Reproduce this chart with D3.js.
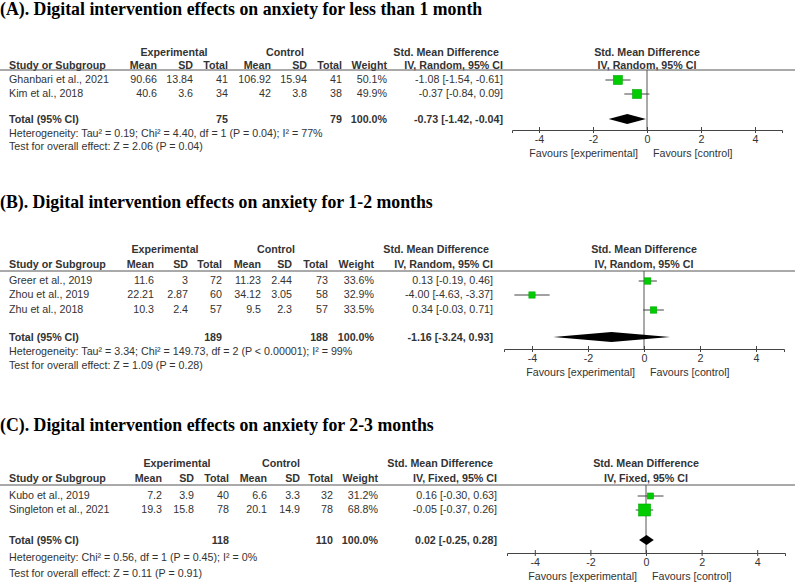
<!DOCTYPE html>
<html>
<head>
<meta charset="utf-8">
<script src="https://cdn.jsdelivr.net/npm/d3@7/dist/d3.min.js"></script>
<style>
  html, body { margin: 0; padding: 0; background: #fff; }
  svg { display: block; }
  .tbl { font-family: "Liberation Sans", Arial, sans-serif; font-size: 10.7px; fill: #333; }
  .b { font-weight: bold; }
  .title { font-family: "Liberation Serif", "Times New Roman", serif; font-weight: bold; font-size: 17.8px; fill: #000; }
</style>
</head>
<body>
<svg id="chart" width="795" height="586"></svg>
<script>
// ---------------- DATA ----------------
const titles = [
  "(A). Digital intervention effects on anxiety for less than 1 month",
  "(B). Digital intervention effects on anxiety for 1-2 months",
  "(C). Digital intervention effects on anxiety for 2-3 months"
];
const methods = ["IV, Random, 95% CI", "IV, Random, 95% CI", "IV, Fixed, 95% CI"];

// Panel A
const studiesA  = ["Ghanbari et al., 2021", "Kim et al., 2018"];
const expMeanA  = ["90.66", "40.6"];
const expSDA    = ["13.84", "3.6"];
const expNA     = ["41", "34"];
const ctlMeanA  = ["106.92", "42"];
const ctlSDA    = ["15.94", "3.8"];
const ctlNA     = ["41", "38"];
const weightA   = [50.1, 49.9];
const smdA      = [-1.08, -0.37];
const lowA      = [-1.54, -0.84];
const highA     = [-0.61, 0.09];
const totalA    = { expN: "75", ctlN: "79", smd: -0.73, low: -1.42, high: -0.04 };
const hetA      = "Heterogeneity: Tau\u00B2 = 0.19; Chi\u00B2 = 4.40, df = 1 (P = 0.04); I\u00B2 = 77%";
const testA     = "Test for overall effect: Z = 2.06 (P = 0.04)";

// Panel B
const studiesB  = ["Greer et al., 2019", "Zhou et al., 2019", "Zhu et al., 2018"];
const expMeanB  = ["11.6", "22.21", "10.3"];
const expSDB    = ["3", "2.87", "2.4"];
const expNB     = ["72", "60", "57"];
const ctlMeanB  = ["11.23", "34.12", "9.5"];
const ctlSDB    = ["2.44", "3.05", "2.3"];
const ctlNB     = ["73", "58", "57"];
const weightB   = [33.6, 32.9, 33.5];
const smdB      = [0.13, -4.00, 0.34];
const lowB      = [-0.19, -4.63, -0.03];
const highB     = [0.46, -3.37, 0.71];
const totalB    = { expN: "189", ctlN: "188", smd: -1.16, low: -3.24, high: 0.93 };
const hetB      = "Heterogeneity: Tau\u00B2 = 3.34; Chi\u00B2 = 149.73, df = 2 (P < 0.00001); I\u00B2 = 99%";
const testB     = "Test for overall effect: Z = 1.09 (P = 0.28)";

// Panel C
const studiesC  = ["Kubo et al., 2019", "Singleton et al., 2021"];
const expMeanC  = ["7.2", "19.3"];
const expSDC    = ["3.9", "15.8"];
const expNC     = ["40", "78"];
const ctlMeanC  = ["6.6", "20.1"];
const ctlSDC    = ["3.3", "14.9"];
const ctlNC     = ["32", "78"];
const weightC   = [31.2, 68.8];
const smdC      = [0.16, -0.05];
const lowC      = [-0.30, -0.37];
const highC     = [0.63, 0.26];
const totalC    = { expN: "118", ctlN: "110", smd: 0.02, low: -0.25, high: 0.28 };
const hetC      = "Heterogeneity: Chi\u00B2 = 0.56, df = 1 (P = 0.45); I\u00B2 = 0%";
const testC     = "Test for overall effect: Z = 0.11 (P = 0.91)";

const axisTicks = [-4, -2, 0, 2, 4];
const axisDomain = [-5, 5];
const favLeft = "Favours [experimental]";
const favRight = "Favours [control]";

// ---------------- LAYOUT ----------------
const layouts = [
  { titleY: 15, h1: 52, h2: 65, lineY: 70, rows: [79, 93], totY: 119, hetY: 133, testY: 146, axisY: 130,
    xr: [512, 782], expC: 174, ctlC: 285,
    col: { study: 9, em: 157, es: 193, en: 228, cm: 271, cs: 307, cn: 342, w: 387, ci: 503 } },
  { titleY: 208, h1: 249, h2: 264, lineY: 271, rows: [280, 294, 309], totY: 337, hetY: 351, testY: 365, axisY: 349,
    xr: [504, 784], expC: 165, ctlC: 276,
    col: { study: 9, em: 154, es: 188, en: 222, cm: 261, cs: 292, cn: 328, w: 374, ci: 493 } },
  { titleY: 431, h1: 463, h2: 478, lineY: 485, rows: [495, 509], totY: 540, hetY: 557, testY: 573, axisY: 553,
    xr: [507, 785], expC: 177, ctlC: 281,
    col: { study: 9, em: 162, es: 194, en: 229, cm: 267, cs: 300, cn: 333, w: 378, ci: 497 } }
];

const panels = [
  { studies: studiesA, em: expMeanA, es: expSDA, en: expNA, cm: ctlMeanA, cs: ctlSDA, cn: ctlNA,
    w: weightA, smd: smdA, lo: lowA, hi: highA, tot: totalA, het: hetA, test: testA },
  { studies: studiesB, em: expMeanB, es: expSDB, en: expNB, cm: ctlMeanB, cs: ctlSDB, cn: ctlNB,
    w: weightB, smd: smdB, lo: lowB, hi: highB, tot: totalB, het: hetB, test: testB },
  { studies: studiesC, em: expMeanC, es: expSDC, en: expNC, cm: ctlMeanC, cs: ctlSDC, cn: ctlNC,
    w: weightC, smd: smdC, lo: lowC, hi: highC, tot: totalC, het: hetC, test: testC }
];

const svg = d3.select("#chart");
const fmt2 = d3.format(".2f");
const fmtW = d3.format(".1f");
const boxSize = d3.scaleLinear().domain([0, 100]).range([1, 17]);

function txt(g, x, y, s, anchor, bold) {
  return g.append("text").attr("class", "tbl" + (bold ? " b" : ""))
    .attr("x", x).attr("y", y).attr("dy", "0.35em")
    .attr("text-anchor", anchor || "start").text(s);
}
function num(v) { return fmt2(v).replace("\u2212", "-"); }
function ciText(e, l, h) { return num(e) + " [" + num(l) + ", " + num(h) + "]"; }

panels.forEach((p, i) => {
  const L = layouts[i], c = L.col;
  const g = svg.append("g");
  g.append("text").attr("class", "title").attr("x", 0).attr("y", L.titleY).text(titles[i]);

  // header row 1
  txt(g, L.expC, L.h1, "Experimental", "middle", true);
  txt(g, L.ctlC, L.h1, "Control", "middle", true);
  txt(g, c.ci - 4, L.h1, "Std. Mean Difference", "end", true);
  // header row 2
  txt(g, c.study, L.h2, "Study or Subgroup", "start", true);
  txt(g, c.em, L.h2, "Mean", "end", true);
  txt(g, c.es, L.h2, "SD", "end", true);
  txt(g, c.en, L.h2, "Total", "end", true);
  txt(g, c.cm, L.h2, "Mean", "end", true);
  txt(g, c.cs, L.h2, "SD", "end", true);
  txt(g, c.cn, L.h2, "Total", "end", true);
  txt(g, c.w, L.h2, "Weight", "end", true);
  txt(g, c.ci, L.h2, methods[i], "end", true);

  const x = d3.scaleLinear().domain(axisDomain).range(L.xr);
  const x0 = x(0);
  txt(g, x0, L.h1, "Std. Mean Difference", "middle", true);
  txt(g, x0, L.h2, methods[i], "middle", true);

  g.append("line").attr("x1", 0).attr("x2", 795).attr("y1", L.lineY).attr("y2", L.lineY)
    .attr("stroke", "#555").attr("stroke-width", 1);

  // study rows
  p.studies.forEach((s, j) => {
    const y = L.rows[j];
    txt(g, c.study, y, s);
    txt(g, c.em, y, p.em[j], "end");
    txt(g, c.es, y, p.es[j], "end");
    txt(g, c.en, y, p.en[j], "end");
    txt(g, c.cm, y, p.cm[j], "end");
    txt(g, c.cs, y, p.cs[j], "end");
    txt(g, c.cn, y, p.cn[j], "end");
    txt(g, c.w, y, fmtW(p.w[j]) + "%", "end");
    txt(g, c.ci, y, ciText(p.smd[j], p.lo[j], p.hi[j]), "end");
  });

  // totals
  txt(g, c.study, L.totY, "Total (95% CI)", "start", true);
  txt(g, c.en, L.totY, p.tot.expN, "end", true);
  txt(g, c.cn, L.totY, p.tot.ctlN, "end", true);
  txt(g, c.w, L.totY, "100.0%", "end", true);
  txt(g, c.ci, L.totY, ciText(p.tot.smd, p.tot.low, p.tot.high), "end", true);
  txt(g, c.study, L.hetY, p.het);
  txt(g, c.study, L.testY, p.test);

  // zero line
  g.append("line").attr("x1", x0).attr("x2", x0).attr("y1", L.lineY).attr("y2", L.axisY)
    .attr("stroke", "#555").attr("stroke-width", 1);

  // CI whiskers and boxes
  p.studies.forEach((s, j) => {
    const y = L.rows[j] + 1;
    g.append("line").attr("x1", x(p.lo[j])).attr("x2", x(p.hi[j])).attr("y1", y).attr("y2", y)
      .attr("stroke", "#444").attr("stroke-width", 1);
    const b = boxSize(p.w[j]);
    g.append("rect").attr("x", x(p.smd[j]) - b / 2).attr("y", y - b / 2)
      .attr("width", b).attr("height", b)
      .attr("fill", "#00cc00").attr("stroke", "#00a800").attr("stroke-width", 0.6);
  });

  // diamond
  const yd = L.totY;
  const pts = [[x(p.tot.low), yd], [x(p.tot.smd), yd - 5], [x(p.tot.high), yd], [x(p.tot.smd), yd + 5]];
  g.append("polygon").attr("points", pts.map(d => d.join(",")).join(" ")).attr("fill", "#000");

  // axis
  const ax = g.append("g").attr("transform", "translate(0," + L.axisY + ")")
    .call(d3.axisBottom(x).tickValues(axisTicks).tickSizeOuter(0).tickSize(3).tickFormat(d => String(d)));
  ax.select(".domain").attr("stroke", "#444");
  ax.selectAll(".tick line").attr("y1", -3).attr("y2", 3).attr("stroke", "#444");
  ax.selectAll(".tick text").attr("y", 5).attr("dy", "0.71em")
    .attr("font-family", "Liberation Sans, Arial, sans-serif").attr("font-size", "10.7px").attr("fill", "#333");

  txt(g, x0 - 9, L.axisY + 23, favLeft, "end");
  txt(g, x0 + 6, L.axisY + 23, favRight, "start");
});
</script>
</body>
</html>
